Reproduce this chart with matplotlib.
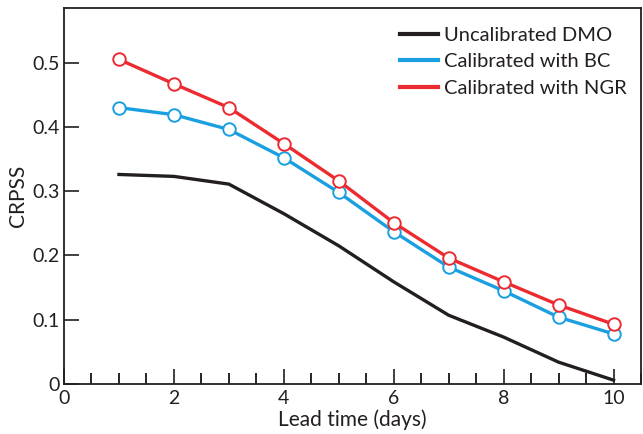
import matplotlib
matplotlib.use("Agg")
import matplotlib.pyplot as plt
from matplotlib.ticker import MultipleLocator

plt.rcParams['font.family'] = ['Lato', 'DejaVu Sans']

lead_days = [1, 2, 3, 4, 5, 6, 7, 8, 9, 10]
crpss_dmo = [0.326, 0.323, 0.311, 0.265, 0.215, 0.159, 0.107, 0.073, 0.034, 0.006]
crpss_bc = [0.430, 0.419, 0.396, 0.352, 0.298, 0.237, 0.182, 0.145, 0.104, 0.078]
crpss_ngr = [0.505, 0.467, 0.430, 0.374, 0.316, 0.251, 0.196, 0.159, 0.123, 0.093]

black = '#231f20'
blue = '#1a9fe0'
red = '#ec2b30'

fig = plt.figure(figsize=(6.43, 4.34), dpi=100)
ax = fig.add_axes([64 / 643, 1 - 384 / 434, (641 - 64) / 643, (384 - 8) / 434])

ax.plot(lead_days, crpss_dmo, color=black, lw=2.4, label='Uncalibrated DMO', zorder=3)
ax.plot(lead_days, crpss_bc, color=blue, lw=2.4, marker='o', ms=9,
        mfc='white', mec=blue, mew=1.4, label='Calibrated with BC', zorder=3)
ax.plot(lead_days, crpss_ngr, color=red, lw=2.4, marker='o', ms=9,
        mfc='white', mec=red, mew=1.4, label='Calibrated with NGR', zorder=3)

ax.set_xlim(0, 10.5)
ax.set_ylim(0, 0.585)
ax.xaxis.set_major_locator(MultipleLocator(2))
ax.xaxis.set_minor_locator(MultipleLocator(0.5))
ax.set_yticks([0, 0.1, 0.2, 0.3, 0.4, 0.5])
ax.set_yticklabels(['0', '0.1', '0.2', '0.3', '0.4', '0.5'])
ax.tick_params(axis='both', which='major', direction='in', length=11, width=1.2,
               labelsize=14, colors=black)
ax.tick_params(axis='y', which='major', pad=3)
ax.tick_params(axis='x', which='major', pad=4)
ax.tick_params(axis='x', which='minor', direction='in', length=8, width=1.2)
for s in ax.spines.values():
    s.set_linewidth(1.3)
    s.set_color(black)

ax.set_xlabel('Lead time (days)', fontsize=15, color=black, labelpad=2)
ax.set_ylabel('CRPSS', fontsize=15, color=black, labelpad=3)

leg = ax.legend(loc='upper right', bbox_to_anchor=(0.99, 0.972), frameon=False,
                fontsize=14.5, handlelength=1.9, handletextpad=0.32,
                labelspacing=0.48, borderaxespad=0)
for h in leg.get_lines():
    h.set_marker('')
    h.set_linewidth(3)
for t in leg.get_texts():
    t.set_color(black)

fig.savefig('out.png', dpi=100)
